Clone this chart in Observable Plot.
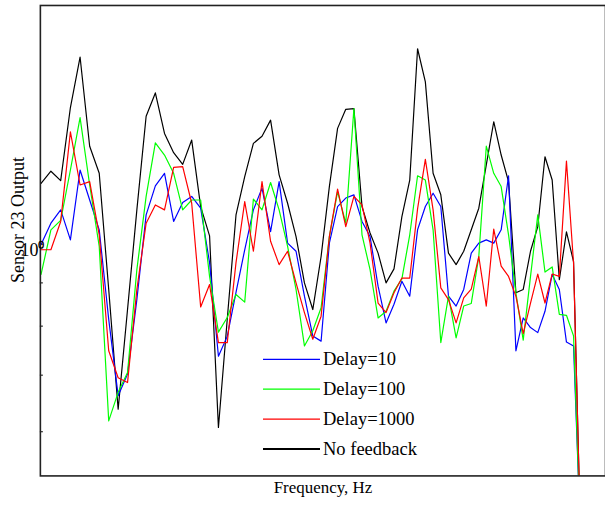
<!DOCTYPE html>
<html><head><meta charset="utf-8">
<script src="https://cdn.jsdelivr.net/npm/d3@7"></script>
<script src="https://cdn.jsdelivr.net/npm/@observablehq/plot@0.6"></script>
<style>
html,body{margin:0;padding:0;overflow:hidden;background:#fff}
#wrap{position:relative;width:605px;height:505px;overflow:hidden}
#legend{position:absolute;left:0;top:0;pointer-events:none}
</style>
</head><body><div id="wrap"></div>
<script>
// Frequency bins (Hz), log-spaced axis
const freqs = d3.range(162, 228);
const seriesNames = ["Delay=10", "Delay=100", "Delay=1000", "No feedback"];
const seriesColors = ["#0000ff", "#00ff00", "#ff0000", "#000000"];
const yTicks = [0.6, 0.7, 0.8, 0.9, 1];

const delay10 = [0.999,1.059,1.098,1.012,1.224,1.128,1.040,0.815,0.662,0.702,
  0.860,1.083,1.172,1.213,1.064,1.120,1.139,1.103,0.951,0.737,
  0.778,0.877,0.985,1.098,1.165,1.035,1.186,1.003,0.981,0.868,
  0.779,0.768,1.003,1.108,1.134,1.144,1.064,1.021,0.892,0.807,
  0.849,0.904,0.868,1.040,1.108,1.149,1.108,0.868,0.845,0.884,
  0.976,1.003,1.012,1.003,1.040,1.205,0.748,0.818,0.797,0.786,
  0.833,0.921,0.884,0.766,0.758,0.45];
const delay100 = [0.921,1.040,1.067,1.224,1.412,1.175,0.994,0.618,0.668,0.705,
  0.933,1.139,1.318,1.275,1.213,1.098,1.128,1.128,0.916,0.787,
  0.819,0.872,0.854,1.131,1.098,1.183,1.098,0.994,0.884,0.758,
  0.790,0.841,1.021,1.154,1.059,1.447,1.026,0.933,0.818,0.833,
  0.880,0.910,1.026,1.205,1.191,1.040,0.765,0.868,0.775,0.845,
  0.851,0.967,1.306,1.213,1.170,1.026,0.876,0.770,0.916,1.083,
  0.927,0.940,0.826,0.824,0.779,0.45];
const delay1000 = [0.985,0.985,1.064,1.358,1.175,1.186,1.026,0.748,0.695,0.686,
  0.884,1.059,1.113,1.098,1.233,1.235,1.118,0.843,0.896,0.765,
  0.765,0.951,1.123,0.981,1.186,1.008,0.946,0.981,0.900,0.830,
  0.772,0.822,1.021,1.162,1.049,1.139,1.113,1.003,0.852,0.830,
  0.876,0.912,0.912,1.101,1.260,1.098,0.888,0.860,0.807,0.864,
  0.885,0.967,0.845,1.042,0.942,0.916,0.868,0.784,0.852,0.922,
  0.852,0.922,0.916,1.254,0.950,0.45];
const noFeedback = [1.180,1.220,1.189,1.451,1.665,1.306,1.213,0.884,0.638,0.837,
  1.098,1.417,1.510,1.352,1.283,1.243,1.328,1.108,1.023,0.607,
  0.815,1.083,1.202,1.316,1.342,1.402,1.208,1.118,1.021,0.900,
  0.837,0.967,1.170,1.371,1.444,1.447,1.108,1.031,0.976,0.900,
  0.935,1.078,1.191,1.703,1.556,1.213,1.144,0.976,0.946,0.981,
  1.040,1.103,1.241,1.396,1.275,1.186,0.876,0.884,0.981,1.049,
  1.269,1.191,0.908,1.034,0.954,0.45];

const seriesValues = [delay10, delay100, delay1000, noFeedback];
const drawOrder = [3, 0, 1, 2];
const rows = drawOrder.flatMap(k => seriesValues[k].map((v, i) => ({f: freqs[i], v, s: seriesNames[k]})));

const serif = "'Liberation Serif', 'Times New Roman', serif";

const chart = Plot.plot({
  width: 607, height: 505,
  marginLeft: 40, marginRight: 0, marginTop: 5, marginBottom: 28,
  style: {fontFamily: serif, fontSize: "17px", color: "#000", background: "transparent"},
  x: {type: "log", domain: [161.93, 230.56], axis: null},
  y: {type: "log", domain: [0.532, 1.916], ticks: yTicks, tickSize: -3, tickFormat: () => "", label: null},
  color: {domain: seriesNames, range: seriesColors},
  marks: [
    Plot.line(rows, {x: "f", y: "v", z: "s", stroke: "s", strokeWidth: 1.2, clip: true}),
    Plot.frame({stroke: "#222", strokeWidth: 1.6}),
    Plot.text([1], {y: d => d, frameAnchor: "left", text: () => "10\u2070", textAnchor: "end", dx: 4, dy: 6, fontSize: 18}),
    Plot.text(["Frequency, Hz"], {frameAnchor: "bottom", dy: 17, fontSize: 17})
  ]
});

const wrap = document.getElementById("wrap");
wrap.appendChild(chart);

// Overlay: y-axis title and in-plot legend
const lg = d3.select(wrap).append("svg").attr("id", "legend").attr("width", 605).attr("height", 505);
lg.append("text").attr("transform", "translate(24,220) rotate(-90)")
  .attr("text-anchor", "middle").attr("font-family", serif).attr("font-size", 18)
  .attr("fill", "#000").text("Sensor 23 Output");
const legendWidths = [1.3, 1.3, 1.3, 2.2];
seriesNames.forEach((name, k) => {
  const y = 359.3 + 29.9 * k;
  lg.append("line").attr("x1", 263).attr("x2", 320).attr("y1", y).attr("y2", y)
    .attr("stroke", seriesColors[k]).attr("stroke-width", legendWidths[k]);
  lg.append("text").attr("x", 323).attr("y", y + 5.5).attr("font-family", serif)
    .attr("font-size", 18.5).attr("fill", "#000").text(name);
});
</script>
</body></html>
